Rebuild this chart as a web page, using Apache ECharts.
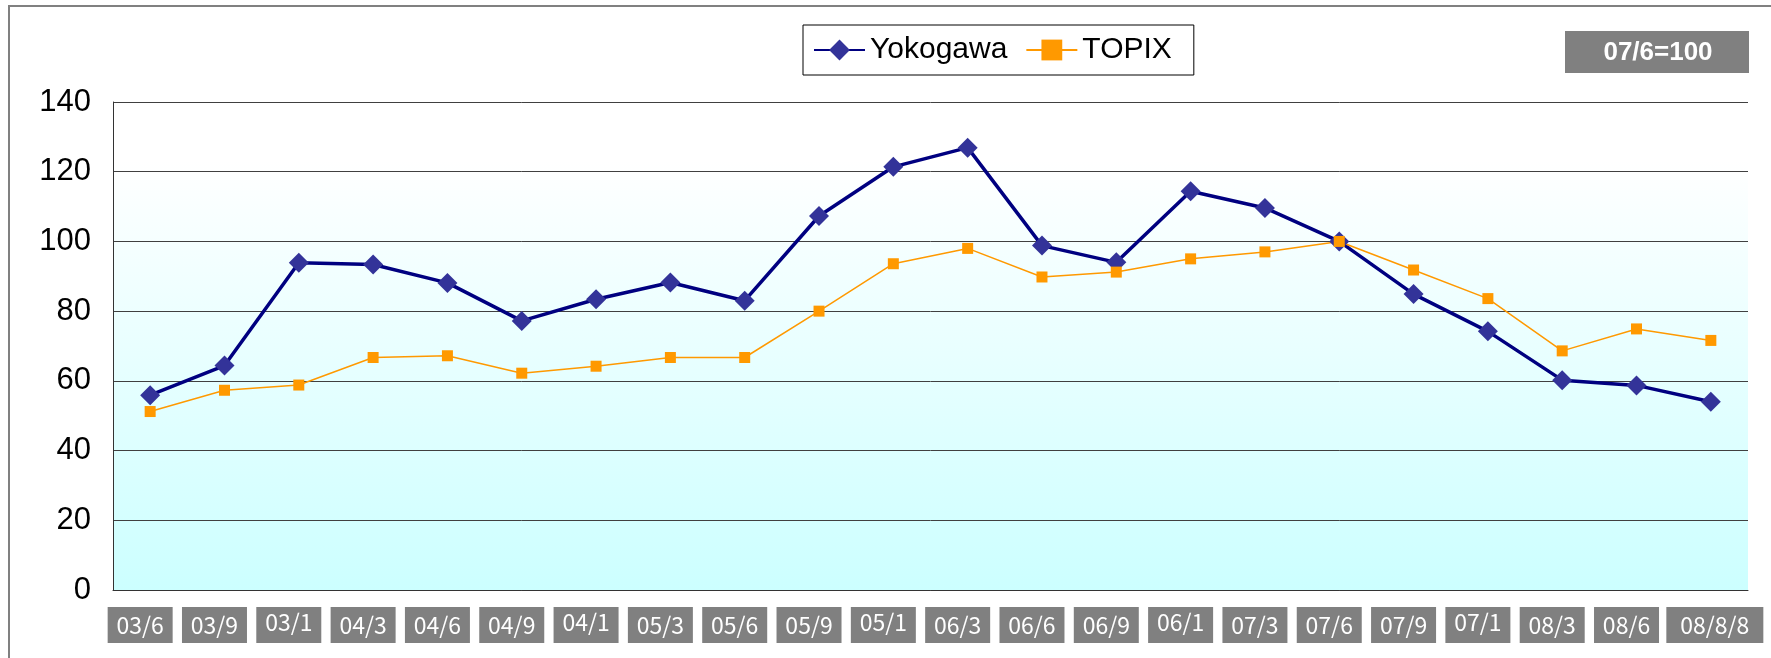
<!DOCTYPE html>
<html>
<head>
<meta charset="utf-8">
<script src="https://cdn.jsdelivr.net/npm/echarts@6/dist/echarts.min.js"></script>
<style>
  html, body { margin: 0; padding: 0; background: #fff; }
  #main { width: 1771px; height: 658px; }
</style>
</head>
<body>
<div id="main"></div>
<script>
// data (07/6 = 100)
var categories = ['03/6', '03/9', '03/1', '04/3', '04/6', '04/9', '04/1', '05/3', '05/6', '05/9', '05/1',
  '06/3', '06/6', '06/9', '06/1', '07/3', '07/6', '07/9', '07/1', '08/3', '08/6', '08/8/8'];
var yokogawa = [55.9, 64.4, 93.9, 93.4, 88.1, 77.2, 83.4, 88.2, 83.0, 107.3, 121.4,
  126.9, 98.8, 94.0, 114.4, 109.6, 100, 84.9, 74.2, 60.2, 58.7, 54.0];
var topix = [51.2, 57.3, 58.8, 66.7, 67.2, 62.2, 64.2, 66.7, 66.7, 80.0, 93.6,
  98.0, 89.8, 91.2, 95.0, 97.0, 100, 91.8, 83.6, 68.6, 74.9, 71.6];
var seriesNames = ['Yokogawa', 'TOPIX'];
var yTicks = { min: 0, max: 140, interval: 20 };
var baseNote = '07/6=100';

var myChart = echarts.init(document.getElementById('main'));

//灰色标签框
var boxStyle = {
  backgroundColor: '#808080',
  color: '#fff',
  fontSize: 23,
  fontFamily: 'Noto Sans CJK JP',
  width: 65,
  height: 36,
  lineHeight: 36,
  align: 'center'
};

var option = {
  animation: false,
  backgroundColor: '#fff',
  graphic: [{
    // outer frame
    type: 'rect',
    z: -1,
    shape: { x: 9, y: 6, width: 1800, height: 700 },
    style: { fill: 'none', stroke: '#808080', lineWidth: 2 }
  }, {
    type: 'rect',
    shape: { x: 1565, y: 31, width: 184, height: 42 },
    style: { fill: '#808080' }
  }, {
    type: 'text',
    x: 1658,
    y: 53,
    style: {
      text: baseNote,
      fill: '#fff',
      font: 'bold 26px "Liberation Sans"',
      textAlign: 'center',
      textVerticalAlign: 'middle'
    }
  }],
  legend: {
    data: seriesNames,
    left: 803,
    top: 25,
    padding: [10, 22, 10, 10],
    borderColor: '#000',
    borderWidth: 1,
    itemWidth: 51,
    itemHeight: 26,
    itemGap: 18,
    textStyle: { fontSize: 30, fontFamily: 'Liberation Sans', color: '#000' }
  },
  grid: {
    left: 113,
    top: 102,
    width: 1635,
    height: 488,
    show: true,
    borderWidth: 0,
    backgroundColor: new echarts.graphic.LinearGradient(0, 0, 0, 1, [
      { offset: 0, color: '#ffffff' },
      { offset: 0.12, color: '#ffffff' },
      { offset: 1, color: '#ccffff' }
    ])
  },
  xAxis: {
    type: 'category',
    data: categories,
    boundaryGap: true,
    axisLine: { lineStyle: { color: '#333', width: 1 } },
    axisTick: { show: false },
    axisLabel: {
      interval: 0,
      margin: 17,
      formatter: function(value, index) {
        if (index == categories.length - 1) {
          return '{t|}{w|' + value + '}';
        }
        // the "/1" boxes have their text sitting a little higher
        var key = /\/1$/.test(value) ? 'c' : 'b';
        return '{' + key + '|' + value + '}{s|}';
      },
      rich: {
        b: boxStyle,
        c: Object.assign({}, boxStyle, { height: 30, lineHeight: 36, padding: [0, 0, 6, 0] }),
        w: Object.assign({}, boxStyle, { width: 97 }),
        s: { width: 20 },
        t: { width: 8 }
      }
    }
  },
  yAxis: {
    type: 'value',
    min: yTicks.min,
    max: yTicks.max,
    interval: yTicks.interval,
    axisLine: { show: true, lineStyle: { color: '#333', width: 1 } },
    axisTick: { show: false },
    axisLabel: {
      margin: 22,
      fontSize: 31,
      fontFamily: 'Liberation Sans',
      color: '#000'
    },
    splitLine: { lineStyle: { color: '#404040', width: 1 } }
  },
  series: [{
    name: seriesNames[0],
    type: 'line',
    data: yokogawa,
    symbol: 'diamond',
    symbolSize: 20,
    showAllSymbol: true,
    lineStyle: { color: '#000080', width: 3.5 },
    itemStyle: { color: '#333399' }
  }, {
    name: seriesNames[1],
    type: 'line',
    data: topix,
    symbol: 'rect',
    symbolSize: 11,
    showAllSymbol: true,
    lineStyle: { color: '#ff9900', width: 1.5 },
    itemStyle: { color: '#ff9900' }
  }]
};

myChart.setOption(option);
</script>
</body>
</html>
